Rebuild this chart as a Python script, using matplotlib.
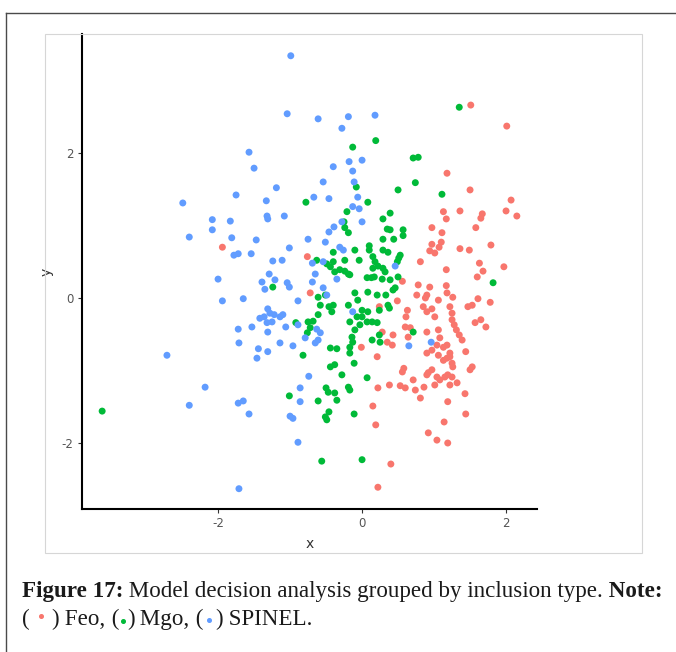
import matplotlib
matplotlib.use("Agg")
import matplotlib.pyplot as plt
from matplotlib.lines import Line2D
from matplotlib.patches import Rectangle

plt.rcParams["axes.unicode_minus"] = False

# model decision points, grouped by inclusion type
feo_x = [-1.94, 1.51, 2.01, 1.18, 1.50, 2.07, 1.13, 2.00, 1.36, 2.15, 1.67, 1.65, 1.17, 1.58,
         0.97, 1.11, 1.79, 0.97, 1.10, 1.07, 0.94, 1.01, 1.36, 1.49, -0.76, 0.81, 1.63, 1.68,
         1.60, 1.97, 1.17, 0.56, 0.78, 0.94, 1.17, -0.72, 0.24, 0.49, 0.76, 0.88, 0.90, 1.06,
         1.18, 1.26, 0.85, 0.90, 0.97, 1.01, 0.63, 0.61, 0.67, 1.22, 1.25, 1.25, 1.47, 1.53,
         1.61, 1.78, 1.57, 1.65, 1.72, 0.28, 0.35, 0.43, 0.42, 0.60, 0.64, 0.90, 1.06, 1.04,
         1.08, 1.13, 1.18, 1.22, 1.28, 1.31, 1.35, 1.39, 1.44, -0.01, 0.21, 0.90, 1.06, 1.13,
         1.18, 1.22, 1.25, 1.26, 0.97, 0.58, 0.56, 0.92, 0.90, 0.97, 1.04, 1.08, 1.15, 1.19,
         1.25, 1.32, 1.22, 1.53, 1.50, 0.22, 0.38, 0.53, 0.60, 0.71, 0.74, 0.81, 0.86, 1.01,
         1.43, 1.19, 0.15, 1.44, 0.19, 1.14, 0.92, 1.04, 1.19, 0.40, 0.22]
feo_y = [0.70, 2.66, 2.37, 1.72, 1.49, 1.35, 1.19, 1.20, 1.20, 1.13, 1.16, 1.10, 1.09, 0.97,
         0.97, 0.90, 0.73, 0.74, 0.77, 0.70, 0.65, 0.62, 0.68, 0.66, 0.57, 0.50, 0.48, 0.37,
         0.29, 0.43, 0.39, 0.23, 0.18, 0.15, 0.17, 0.07, -0.12, -0.04, 0.04, 0.00, 0.04, -0.03,
         0.07, 0.01, -0.12, -0.19, -0.15, -0.26, -0.17, -0.26, -0.41, -0.12, -0.21, -0.30, -0.12, -0.10,
         -0.01, -0.06, -0.34, -0.30, -0.40, -0.47, -0.61, -0.51, -0.65, -0.40, -0.54, -0.47, -0.44, -0.65,
         -0.55, -0.68, -0.65, -0.76, -0.37, -0.44, -0.51, -0.58, -0.74, -0.68, -0.81, -0.76, -0.79, -0.86,
         -0.83, -0.81, -0.90, -0.95, -0.72, -0.97, -1.02, -1.03, -1.06, -0.99, -1.09, -1.13, -1.09, -1.06,
         -1.09, -1.17, -1.20, -0.95, -0.99, -1.24, -1.20, -1.21, -1.24, -1.13, -1.27, -1.38, -1.23, -1.20,
         -1.32, -1.43, -1.49, -1.60, -1.75, -1.71, -1.86, -1.96, -2.00, -2.29, -2.61]

mgo_x = [-3.61, 1.35, 0.19, -0.13, 0.71, 0.78, -0.08, 0.74, 0.50, 1.11, -0.78, 0.08, -0.21, 0.39,
         0.29, -0.25, -0.24, -0.19, 0.35, 0.39, 0.57, 0.57, 0.44, 0.29, 0.10, 0.10, -0.10, -0.40,
         0.29, 0.36, -0.63, -0.49, -0.44, -0.40, -0.24, -0.04, 0.15, 0.18, 0.22, 0.15, 0.51, 0.49,
         0.53, -0.31, -0.24, -0.19, 0.29, 0.32, 0.07, 0.13, 0.17, 0.28, 0.39, 0.46, -0.38, -0.17,
         0.50, -1.24, 1.82, -0.61, -0.51, -0.58, -0.40, -0.42, -0.46, -0.61, -0.10, -0.06, 0.08, 0.21,
         0.33, 0.43, -0.19, 0.00, 0.08, 0.24, 0.36, 0.38, -0.92, -0.75, -0.68, -0.72, -0.76, -0.17,
         -0.07, 0.00, 0.07, 0.14, 0.21, -0.03, -0.10, -0.14, -0.13, -0.17, -0.17, 0.14, 0.25, 0.24,
         0.71, -0.44, -0.35, -0.82, -0.44, -0.38, -0.28, -0.11, 0.07, -0.19, -0.17, -0.50, -0.47, -0.38,
         -0.35, -0.61, -1.01, -0.51, -0.49, -0.46, -0.11, -0.56, 0.00]
mgo_y = [-1.56, 2.63, 2.17, 2.08, 1.93, 1.94, 1.53, 1.59, 1.49, 1.43, 1.32, 1.32, 1.19, 1.17,
         1.09, 1.05, 0.97, 0.90, 0.95, 0.94, 0.94, 0.86, 0.81, 0.81, 0.72, 0.66, 0.66, 0.63,
         0.66, 0.63, 0.52, 0.47, 0.43, 0.50, 0.52, 0.52, 0.57, 0.50, 0.44, 0.41, 0.55, 0.50,
         0.59, 0.39, 0.37, 0.33, 0.41, 0.36, 0.28, 0.28, 0.29, 0.26, 0.25, 0.14, 0.36, 0.32,
         0.29, 0.15, 0.21, 0.01, 0.04, -0.10, -0.10, -0.19, -0.12, -0.23, 0.07, -0.03, 0.08, 0.04,
         0.04, 0.11, -0.10, -0.17, -0.19, -0.17, -0.10, -0.14, -0.34, -0.33, -0.32, -0.41, -0.48, -0.33,
         -0.26, -0.26, -0.33, -0.33, -0.34, -0.37, -0.44, -0.54, -0.61, -0.68, -0.76, -0.58, -0.61, -0.51,
         -0.47, -0.69, -0.70, -0.79, -0.95, -0.92, -1.06, -0.90, -1.10, -1.23, -1.27, -1.24, -1.30, -1.31,
         -1.41, -1.42, -1.35, -1.64, -1.68, -1.57, -1.60, -2.25, -2.23]

spinel_x = [-0.99, -1.04, -0.61, -0.19, 0.18, -0.28, -1.57, -1.50, 0.00, -0.18, -0.40, -0.13, -1.19, -0.54,
            -0.11, -0.06, -1.75, -1.33, -2.49, -0.67, -0.46, -1.32, -1.31, -1.08, -2.08, -1.83, -0.13, -0.04,
            -0.28, 0.00, -2.08, -0.39, -0.46, -2.40, -1.81, -1.47, -0.75, -0.51, -0.31, -0.26, -1.78, -1.72,
            -1.54, -1.01, -1.24, -1.11, -0.69, -0.54, -0.65, -0.35, 0.46, -1.29, -2.00, -1.21, -1.39, -1.04,
            -1.01, -0.69, -1.35, -0.54, -0.49, -1.94, -1.65, -0.89, -1.31, -1.28, -1.36, -1.22, -1.14, -1.25,
            -1.32, -1.42, -1.72, -1.53, -1.31, -1.10, -1.06, -0.89, -1.71, -1.14, -1.44, -1.31, -1.46, -0.96,
            -0.79, -0.63, -0.58, -0.61, -0.65, -0.13, 0.65, 0.96, -2.71, -2.18, -1.72, -1.65, -2.40, -1.57,
            -1.71, -0.74, -0.86, -0.86, -1.00, -0.96, -0.89]
spinel_y = [3.34, 2.54, 2.47, 2.50, 2.52, 2.34, 2.01, 1.79, 1.90, 1.88, 1.81, 1.75, 1.52, 1.60,
            1.60, 1.39, 1.42, 1.34, 1.31, 1.39, 1.37, 1.13, 1.09, 1.13, 1.08, 1.06, 1.26, 1.23,
            1.05, 1.05, 0.94, 0.98, 0.91, 0.84, 0.83, 0.80, 0.81, 0.77, 0.70, 0.66, 0.59, 0.61,
            0.61, 0.69, 0.51, 0.52, 0.48, 0.50, 0.33, 0.26, 0.44, 0.33, 0.26, 0.25, 0.22, 0.21,
            0.15, 0.22, 0.12, 0.14, 0.04, -0.04, -0.01, -0.04, -0.15, -0.21, -0.26, -0.23, -0.26, -0.33,
            -0.34, -0.28, -0.43, -0.40, -0.47, -0.23, -0.40, -0.37, -0.62, -0.62, -0.70, -0.74, -0.83, -0.66,
            -0.55, -0.43, -0.48, -0.58, -0.62, -0.19, -0.66, -0.61, -0.79, -1.23, -1.45, -1.42, -1.48, -1.60,
            -2.63, -1.08, -1.24, -1.43, -1.63, -1.66, -1.99]

groups = [("Feo", feo_x, feo_y, "#F8766D"),
          ("Mgo", mgo_x, mgo_y, "#00BA38"),
          ("SPINEL", spinel_x, spinel_y, "#619CFF")]

W, H = 676, 652
fig = plt.figure(figsize=(W / 100, H / 100), dpi=100)


def fx(px):
    return px / W


def fy(py):
    return 1 - py / H


# page frame (open to the right and bottom) and the grey border of the plot image
fig.add_artist(Line2D([fx(6), fx(6)], [fy(13), 0], color="#4a4a4a", lw=1.0))
fig.add_artist(Line2D([fx(6), 1], [fy(13), fy(13)], color="#4a4a4a", lw=1.0))
fig.add_artist(Rectangle((fx(45), fy(553)), fx(642) - fx(45), fy(34) - fy(553),
                         fill=False, ec="#d6d6d6", lw=0.8))

ax = fig.add_axes([fx(82), fy(509), fx(537) - fx(82), fy(34) - fy(509)])
for name, xs, ys, col in groups:
    ax.scatter(xs, ys, s=25, color=col, edgecolors="none", label=name)

ax.set_xlim(-3.89, 2.43)
ax.set_ylim(-2.91, 3.64)
ax.set_xticks([-2, 0, 2])
ax.set_yticks([-2, 0, 2])
for side in ["top", "right"]:
    ax.spines[side].set_visible(False)
for side in ["left", "bottom"]:
    ax.spines[side].set_linewidth(1.5)
    ax.spines[side].set_color("black")
ax.tick_params(length=3, width=0.8, color="#333333", labelcolor="#555555", labelsize=8.5, pad=3)
ax.set_xlabel("x", fontsize=10, color="#333333", labelpad=5)
ax.set_ylabel("y", fontsize=10, color="#333333", labelpad=6)

# caption
fig.canvas.draw()
rend = fig.canvas.get_renderer()
serif = "Liberation Serif"
fs = 16.6


def put(x, y, s, weight="normal"):
    t = fig.text(x, y, s, fontsize=fs, family=serif, weight=weight, color="#1a1a1a",
                 va="baseline", ha="left")
    return x + t.get_window_extent(rend).width / W


y1 = fy(597)
x = fx(22)
x = put(x, y1, "Figure 17:", "bold")
x = put(x, y1, " Model decision analysis grouped by inclusion type.")
x = put(x, y1, " Note:", "bold")

y2 = fy(625)
x = fx(22)
for label, col, gap, lift in [("Feo,", "#F8766D", 11, 9), ("Mgo,", "#00BA38", 4, 4),
                             ("SPINEL.", "#619CFF", 6, 5)]:
    x = put(x, y2, "(" if label == "Feo," else " (")
    x += gap / W
    fig.add_artist(Line2D([x], [y2 + lift / H], marker="o", ms=2.6, color=col, lw=0,
                          transform=fig.transFigure))
    x += gap / W
    x = put(x, y2, ")")
    x = put(x, y2, " " + label)

fig.savefig("out.png", dpi=100)
